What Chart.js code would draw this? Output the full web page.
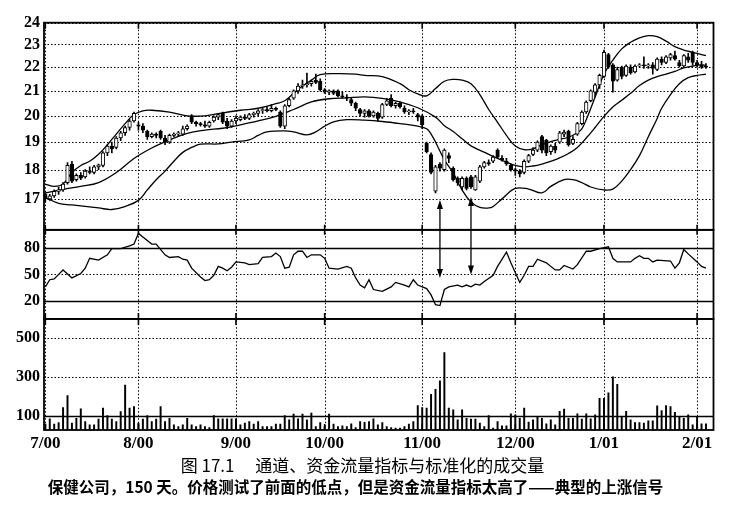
<!DOCTYPE html>
<html><head><meta charset="utf-8">
<script src="https://cdn.jsdelivr.net/npm/chart.js@4.4.1/dist/chart.umd.min.js"></script>
<style>
html,body{margin:0;padding:0;background:#fff;width:735px;height:518px;overflow:hidden;}
#wrap{position:absolute;left:0;top:0;width:735px;height:454px;}
.cap{position:absolute;width:735px;text-align:center;font-family:"Noto Sans CJK SC",sans-serif;color:#000;white-space:pre;}
#cap1{top:454px;left:-5px;font-size:17px;line-height:22px;}
#cap2{top:475px;left:-12px;font-size:15.5px;font-weight:bold;line-height:22px;}
</style></head>
<body>
<div id="wrap"><canvas id="c"></canvas></div>
<div class="cap" id="cap1">图 17.1　 通道、资金流量指标与标准化的成交量</div>
<div class="cap" id="cap2">保健公司，150 天。价格测试了前面的低点，但是资金流量指标太高了——典型的上涨信号</div>
<script>
// ---- data ----
const monthIdx = [0,21,43,63,85,106,126,147];
const monthLabels = ['7/00','8/00','9/00','10/00','11/00','12/00','1/01','2/01'];
const priceTicks = [17,18,19,20,21,22,23,24];
const mfiTicks = [20,50,80];
const volTicks = [100,300,500];
const mfiSolid = [20,80];
const volSolid = [100];

const opens = [17.15,17.0,17.1,17.25,17.3,17.55,18.2,17.65,17.8,17.75,
17.95,17.9,18.1,18.15,18.6,18.85,18.8,19.15,19.35,19.55,
19.8,19.65,19.6,19.4,19.2,19.3,19.4,19.15,19.0,19.25,
19.3,19.3,19.5,20.0,19.75,19.7,19.65,19.6,19.8,19.95,
20.1,19.8,19.6,19.8,19.85,19.95,19.9,20.05,20.1,20.2,
20.25,20.2,20.3,20.15,19.6,20.4,20.7,21.0,21.2,21.25,
21.3,21.45,21.4,21.05,20.95,21.0,21.0,20.8,20.75,20.65,
20.5,20.25,20.1,20.2,20.0,20.1,19.95,20.45,20.7,20.4,
20.5,20.3,20.15,20.2,20.05,20.0,18.95,18.54,17.26,18.2,
18.0,18.5,18.05,17.7,17.4,17.7,17.75,17.3,17.6,18.1,
18.25,18.3,18.7,18.4,18.3,18.15,18.0,17.95,17.9,18.3,
18.55,18.7,19.2,19.07,18.65,18.85,19.0,19.3,19.4,18.95,
19.3,19.7,20.15,20.6,20.95,21.25,21.6,22.55,22.1,21.45,
22.0,21.65,22.0,21.8,22.05,22.1,22.05,22.1,21.9,22.35,
22.2,22.4,22.5,22.2,22.05,22.45,22.65,22.2,22.1,22.05];
const highs = [17.2,17.15,17.3,17.4,17.55,18.25,18.3,17.85,17.9,18.0,
18.1,18.15,18.2,18.65,18.9,19.0,19.2,19.4,19.6,19.85,
20.15,19.75,19.7,19.45,19.35,19.35,19.45,19.25,19.3,19.35,
19.4,19.6,19.65,20.05,19.8,19.75,19.8,19.8,20.0,20.1,
20.15,19.9,19.85,20.0,20.0,20.05,20.1,20.15,20.25,20.3,
20.35,20.45,20.35,20.2,20.45,20.7,21.05,21.3,21.45,21.75,
21.45,21.7,21.5,21.1,21.05,21.05,21.05,20.95,20.85,20.7,
20.55,20.3,20.25,20.25,20.2,20.15,20.5,20.7,20.85,20.55,
20.55,20.4,20.25,20.3,20.1,20.05,19.0,18.6,18.15,18.25,
18.75,18.6,18.1,17.75,17.75,17.75,17.8,17.8,18.15,18.3,
18.35,18.5,18.75,18.5,18.4,18.2,18.05,18.0,18.35,18.55,
18.8,19.05,19.25,19.1,18.9,18.95,19.4,19.45,19.45,19.2,
19.75,20.2,20.6,21.05,21.3,21.7,22.75,22.6,22.15,22.0,
22.05,22.1,22.1,22.1,22.15,22.45,22.15,22.2,22.4,22.45,
22.5,22.6,22.7,22.3,22.55,22.6,22.7,22.3,22.25,22.15];
const lows = [16.9,16.95,17.05,17.15,17.25,17.5,17.55,17.6,17.65,17.7,
17.85,17.85,18.0,18.1,18.5,18.6,18.75,19.05,19.25,19.45,
19.75,19.45,19.35,19.1,19.15,19.15,19.1,18.9,18.95,19.2,
19.2,19.25,19.45,19.7,19.6,19.6,19.55,19.55,19.75,19.85,
19.7,19.5,19.55,19.7,19.8,19.85,19.85,19.95,20.0,20.1,
20.15,20.15,20.2,19.55,19.5,20.35,20.65,20.9,21.1,21.15,
21.2,21.3,21.0,20.9,20.85,20.85,20.75,20.7,20.6,20.4,
20.2,20.0,19.95,19.95,19.95,19.8,19.9,20.4,20.35,20.3,
20.3,20.1,20.05,20.1,19.8,19.5,18.6,17.85,17.2,17.95,
17.95,18.25,17.6,17.45,17.3,17.3,17.35,17.28,17.55,18.05,
18.15,18.25,18.4,18.3,18.15,17.95,17.8,17.75,17.85,18.25,
18.5,18.65,18.6,18.5,18.55,18.6,18.95,19.2,18.85,18.9,
19.25,19.65,20.1,20.55,20.75,21.1,21.55,21.95,20.95,21.4,
21.5,21.6,21.7,21.75,22.0,21.95,21.95,21.7,21.85,22.1,
22.15,22.3,22.3,22.0,22.0,22.2,22.1,22.0,21.95,21.95];
const closes = [17.0,17.1,17.25,17.3,17.5,18.15,17.6,17.8,17.7,17.95,
17.9,18.1,18.17,18.6,18.85,18.75,19.15,19.35,19.55,19.8,
20.1,19.6,19.45,19.2,19.3,19.25,19.15,19.0,19.25,19.3,
19.35,19.5,19.6,19.75,19.7,19.65,19.6,19.75,19.95,20.05,
19.75,19.6,19.8,19.9,19.95,19.9,20.05,20.1,20.2,20.25,
20.2,20.3,20.25,19.6,20.4,20.65,21.0,21.2,21.25,21.3,
21.4,21.35,21.05,20.95,21.0,20.9,20.8,20.75,20.7,20.5,
20.3,20.1,20.2,20.0,20.15,19.9,20.45,20.6,20.4,20.5,
20.35,20.15,20.2,20.15,19.95,19.65,18.65,17.9,18.1,18.05,
18.7,18.4,17.65,17.55,17.7,17.35,17.4,17.75,18.1,18.25,
18.2,18.45,18.45,18.35,18.2,18.0,17.95,17.85,18.3,18.5,
18.7,19.0,18.7,18.6,18.85,18.7,19.35,19.37,18.9,19.1,
19.7,20.15,20.55,21.0,21.25,21.65,22.65,22.0,21.4,21.9,
21.6,22.05,21.75,22.05,22.1,22.05,22.1,21.95,22.35,22.2,
22.45,22.55,22.35,22.05,22.5,22.3,22.2,22.1,22.0,22.0];

const upperIdx = [0,2,4,6,8,10,12,14,16,18,20,22,24,28,32,36,40,44,48,52,54,56,58,60,62,66,70,72,76,80,82,84,86,88,90,92,94,96,98,100,102,104,106,108,110,112,114,116,118,120,121,122,124,126,128,130,132,134,136,138,140,142,144,146,148,149];
const upperBand = [17.5,17.42,17.5,17.9,18.15,18.3,18.55,18.9,19.3,19.7,20.05,20.2,20.22,20.15,20.0,20.0,20.12,20.22,20.3,20.48,20.6,20.9,21.2,21.45,21.68,21.72,21.7,21.65,21.6,21.3,21.05,20.88,20.8,21.1,21.4,21.48,21.45,21.3,20.85,20.25,19.75,19.25,18.85,18.72,18.75,18.9,19.02,19.1,19.18,19.35,19.5,19.85,20.75,21.7,22.3,22.8,23.1,23.3,23.4,23.35,23.15,22.9,22.75,22.65,22.55,22.5];
const midIdx = [0,4,8,12,16,20,24,28,32,36,40,44,48,52,56,60,64,68,72,76,80,84,88,90,92,94,96,100,102,104,106,108,110,112,114,116,118,120,122,124,126,128,130,132,134,136,138,140,142,144,146,148,149];
const midBand = [17.2,17.32,17.42,17.55,17.9,18.4,18.78,19.08,19.33,19.45,19.52,19.65,19.8,19.98,20.25,20.55,20.68,20.72,20.76,20.7,20.55,20.32,19.95,19.62,19.4,19.12,18.86,18.55,18.4,18.27,18.15,18.1,18.13,18.2,18.3,18.42,18.58,18.8,19.15,19.55,19.98,20.35,20.62,20.9,21.22,21.45,21.6,21.7,21.82,21.97,22.05,22.1,22.08];
const lowerIdx = [0,3,6,9,12,15,18,21,23,25,27,29,31,33,35,39,42,46,48,50,54,56,59,61,63,65,68,72,76,80,84,86,87,88,90,92,94,96,98,100,101,103,106,109,112,114,117,119,121,123,126,128,130,132,134,136,138,139,141,143,145,147,149];
const lowerBand = [17.05,16.85,16.8,16.75,16.7,16.65,16.75,16.95,17.3,17.65,17.95,18.3,18.62,18.8,18.92,18.93,19.0,19.08,19.25,19.38,19.42,19.38,19.27,19.38,19.6,19.77,19.85,19.83,19.78,19.7,19.6,19.5,19.3,19.0,18.35,17.88,17.3,16.9,16.72,16.7,16.75,17.0,17.35,17.33,17.2,17.42,17.65,17.65,17.55,17.4,17.3,17.33,17.6,18.0,18.5,19.2,19.9,20.3,20.85,21.3,21.55,21.65,21.7];

const mfiIdx = [0,1,2,3,4,6,8,9,10,12,14,15,17,19,20,21,22,24,25,27,28,30,31,32,33,35,36,37,38,39,40,41,42,43,45,46,48,49,51,52,53,54,55,56,57,58,59,60,62,63,64,66,68,69,70,71,72,73,74,76,78,79,81,82,83,84,86,87,88,89,90,91,93,94,95,96,97,98,99,101,102,104,105,107,108,109,110,111,113,115,116,117,119,120,122,123,125,127,128,129,132,133,134,135,136,137,138,141,142,143,144,145,147,148,149];
const mfiVals = [36,44,45,50,55,46,51,57,68,66,72,79,79,82,84,96,92,84,84,72,69,70,67,66,57,47,43,44,49,59,57,54,58,64,63,61,62,69,70,74,70,57,58,72,76,76,69,72,72,68,57,56,59,57,46,38,35,44,33,31,36,41,38,36,44,38,34,27,16,15,33,36,38,36,38,36,39,38,42,49,59,75,63,41,49,59,59,67,63,55,55,60,56,61,76,76,79,81,68,64,64,68,71,68,68,64,66,65,57,63,78,73,64,59,57];

const volumes = [55,83,55,64,141,203,61,86,134,69,52,52,81,138,100,81,69,120,258,138,
146,61,81,100,69,81,146,69,86,52,43,52,86,52,43,52,43,38,100,83,
83,83,83,83,52,61,69,55,69,43,43,43,55,55,100,78,107,83,107,78,
112,43,64,43,107,55,43,47,43,57,38,69,65,69,83,52,64,43,38,35,
35,43,55,69,151,141,138,210,236,280,426,138,129,78,129,86,81,81,61,43,
100,35,69,47,47,109,103,86,138,66,78,95,86,57,78,52,121,133,86,86,
109,81,109,83,103,189,189,218,300,261,95,121,78,64,64,61,73,73,150,126,
151,146,117,95,86,103,52,95,57,57];

const arrowIdx = [89,96];
const arrowPrice = [16.96,17.06];
const arrowMfi = [46,50];

// ---- build datasets ----
const pts = (xs, ys) => xs.map((x,i)=>({x:x, y:ys[i]}));
const bodies = closes.map((c,i)=>({x:i, y:[opens[i], c]}));
const wicks = highs.map((h,i)=>({x:i, y:[lows[i], h]}));
const volPts = volumes.map((v,i)=>({x:i, y:v}));

const tickFont = {family:'"Liberation Serif", serif', size:16, weight:'bold'};

// dotted grid lines drawn from the scales' own ticks
const gridPlugin = {
  id:'dottedGrid',
  beforeDatasetsDraw(chart){
    const {ctx, chartArea:a, scales} = chart;
    ctx.save();
    ctx.strokeStyle = '#000';
    ctx.lineWidth = 1;
    ctx.setLineDash([1.5,2]);
    ctx.beginPath();
    scales.x.ticks.forEach(t=>{
      const px = Math.round(scales.x.getPixelForValue(t.value))+0.5;
      ctx.moveTo(px, a.top); ctx.lineTo(px, a.bottom);
    });
    ['price','mfi','vol'].forEach(id=>{
      const s = scales[id];
      s.ticks.forEach(t=>{
        const py = Math.round(s.getPixelForValue(t.value))+0.5;
        ctx.moveTo(a.left, py); ctx.lineTo(a.right, py);
      });
    });
    ctx.stroke();
    ctx.restore();
  }
};

const framePlugin = {
  id:'frame',
  afterDatasetsDraw(chart){
    const {ctx, chartArea:a, scales} = chart;
    const P = scales.price, M = scales.mfi, V = scales.vol, X = scales.x;
    ctx.save();
    ctx.strokeStyle = '#000';
    ctx.lineWidth = 1.3;
    ctx.beginPath();
    mfiSolid.forEach(v=>{ const y = Math.round(M.getPixelForValue(v))+0.5; ctx.moveTo(a.left,y); ctx.lineTo(a.right,y); });
    volSolid.forEach(v=>{ const y = Math.round(V.getPixelForValue(v))+0.5; ctx.moveTo(a.left,y); ctx.lineTo(a.right,y); });
    ctx.stroke();
    ctx.lineWidth = 1.8;
    [P,M,V].forEach(s=>{ ctx.strokeRect(a.left, s.top, a.right-a.left, s.bottom-s.top); });
    ctx.lineWidth = 1.6;
    ctx.beginPath();
    X.ticks.forEach(t=>{
      const px = X.getPixelForValue(t.value);
      ctx.moveTo(px, P.top); ctx.lineTo(px, P.top+6);
      ctx.moveTo(px, P.bottom-5); ctx.lineTo(px, P.bottom+5);
      ctx.moveTo(px, M.bottom-6); ctx.lineTo(px, M.bottom+6);
      ctx.moveTo(px, V.bottom-6); ctx.lineTo(px, V.bottom);
    });
    ctx.stroke();
    ctx.fillStyle = '#000';
    ctx.lineWidth = 1.3;
    arrowIdx.forEach((ix,i)=>{
      const px = X.getPixelForValue(ix);
      const y1 = P.getPixelForValue(arrowPrice[i]);
      const y2 = M.getPixelForValue(arrowMfi[i]);
      ctx.beginPath(); ctx.moveTo(px, y1+6); ctx.lineTo(px, y2-6); ctx.stroke();
      ctx.beginPath(); ctx.moveTo(px, y1); ctx.lineTo(px-3, y1+9); ctx.lineTo(px+3, y1+9); ctx.closePath(); ctx.fill();
      ctx.beginPath(); ctx.moveTo(px, y2); ctx.lineTo(px-3, y2-9); ctx.lineTo(px+3, y2-9); ctx.closePath(); ctx.fill();
    });
    ctx.restore();
  }
};

const yAxis = (extra, tickList) => Object.assign({
  position:'left', stack:'panels', offset:false,
  grid:{display:false, drawTicks:false},
  border:{display:false},
  afterBuildTicks: s => { s.ticks = tickList.map(v=>({value:v})); },
  ticks:{font:tickFont, color:'#000', padding:4, autoSkip:false, callback: v => String(v)},
  afterFit: s => { s.width = 40; }
}, extra);

new Chart(document.getElementById('c'), {
  data:{
    datasets:[
      {type:'bar', label:'body', data:bodies, xAxisID:'x', yAxisID:'price', grouped:false,
       barThickness:3.6, borderWidth:1, borderSkipped:false, borderColor:'#000',
       backgroundColor: c => (closes[c.dataIndex] >= opens[c.dataIndex] ? '#fff' : '#000'), order:0},
      {type:'bar', label:'wick', data:wicks, xAxisID:'x', yAxisID:'price', grouped:false,
       barThickness:1, borderWidth:0, backgroundColor:'#000', order:1},
      {type:'line', label:'upper', data:pts(upperIdx, upperBand), xAxisID:'x', yAxisID:'price',
       borderColor:'#000', borderWidth:1.3, pointRadius:0, tension:0.4, order:2},
      {type:'line', label:'mid', data:pts(midIdx, midBand), xAxisID:'x', yAxisID:'price',
       borderColor:'#000', borderWidth:1.3, pointRadius:0, tension:0.4, order:2},
      {type:'line', label:'lower', data:pts(lowerIdx, lowerBand), xAxisID:'x', yAxisID:'price',
       borderColor:'#000', borderWidth:1.3, pointRadius:0, tension:0.4, order:2},
      {type:'line', label:'MFI', data:pts(mfiIdx, mfiVals), xAxisID:'x', yAxisID:'mfi',
       borderColor:'#000', borderWidth:1.3, pointRadius:0, tension:0, order:2},
      {type:'bar', label:'vol', data:volPts, xAxisID:'x', yAxisID:'vol', grouped:false,
       barThickness:1.3, borderWidth:0, backgroundColor:'#000', order:3}
    ]
  },
  options:{
    responsive:true, maintainAspectRatio:false, animation:false,
    layout:{padding:{left:4, right:21.5, top:22.7, bottom:0}},
    plugins:{legend:{display:false}, tooltip:{enabled:false}},
    scales:{
      x:{type:'linear', position:'bottom', min:-0.3, max:150.7, offset:false,
        afterBuildTicks: s => { s.ticks = monthIdx.map(v=>({value:v})); },
        ticks:{callback: v => monthLabels[monthIdx.indexOf(v)], font:{family:'"Liberation Serif", serif', size:17, weight:'bold'},
               color:'#000', maxRotation:0, autoSkip:false, padding:3},
        grid:{display:false, offset:false, drawTicks:false},
        border:{display:false},
        afterFit: s => { s.height = 24; }
      },
      vol: yAxis({type:'linear', min:25, max:600, stackWeight:111, weight:1}, volTicks),
      mfi: yAxis({type:'linear', min:0, max:100, stackWeight:89, weight:2}, mfiTicks),
      price: yAxis({type:'logarithmic', min:16, max:24, stackWeight:207, weight:3}, priceTicks)
    }
  },
  plugins:[gridPlugin, framePlugin]
});
</script>
</body></html>
